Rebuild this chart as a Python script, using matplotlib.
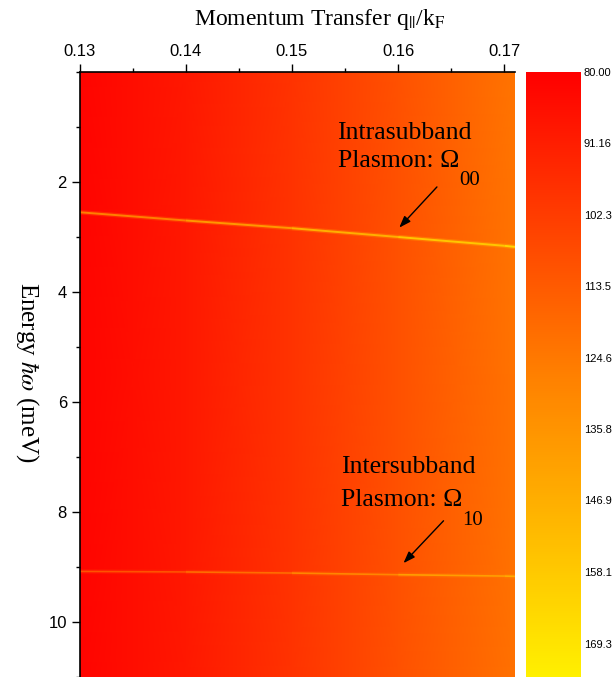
import numpy as np
import matplotlib
matplotlib.use("Agg")
import matplotlib.pyplot as plt
from matplotlib.colors import LinearSegmentedColormap, Normalize
from matplotlib.collections import LineCollection
from matplotlib.ticker import MultipleLocator, FormatStrFormatter

plt.rcParams['mathtext.fontset'] = 'stix'

# ---- data ----
q_grid = [0.13, 0.14, 0.15, 0.16, 0.171]          # q_par / k_F
E_grid = [0.0, 11.0]                              # energy (meV)
bg_vals = [[81.5, 89.0, 99.0, 110.0, 123.0],      # top row
           [81.5, 89.0, 99.0, 110.0, 122.0]]      # bottom row

intra_q = [0.13, 0.14, 0.15, 0.16, 0.17, 0.171]
intra_E = [2.55, 2.70, 2.84, 3.00, 3.16, 3.18]
intra_v = [122.0, 132.0, 142.0, 152.0, 162.0, 163.0]

inter_q = [0.13, 0.14, 0.15, 0.16, 0.17, 0.171]
inter_E = [9.08, 9.09, 9.11, 9.14, 9.165, 9.17]
inter_v = [106.0, 115.0, 125.0, 135.0, 145.0, 146.0]

cbar_ticks = [80.00, 91.16, 102.3, 113.5, 124.6, 135.8, 146.9, 158.1, 169.3]
cbar_labels = ["80.00", "91.16", "102.3", "113.5", "124.6", "135.8", "146.9", "158.1", "169.3"]
vmin, vmax = 80.0, 174.5

x_ticks = [0.13, 0.14, 0.15, 0.16, 0.17]
y_ticks = [2, 4, 6, 8, 10]

# ---- figure ----
W, H = 612, 677
fig = plt.figure(figsize=(W / 100, H / 100), dpi=100)
ax = fig.add_axes([79.5 / W, 0, (515 - 79.5) / W, 1 - 72 / H])
cax = fig.add_axes([526 / W, 0, 55 / W, 1 - 72 / H])

cmap = LinearSegmentedColormap.from_list("ry", [(1, 0, 0), (1, 0.5, 0), (1, 0.94, 0)])
norm = Normalize(vmin=vmin, vmax=vmax)

mesh = ax.pcolormesh(q_grid, E_grid, np.array(bg_vals), cmap=cmap, norm=norm,
                     shading='gouraud', rasterized=True)

def plasmon(qs, Es, vs, lw_core, lw_glow):
    pts = np.column_stack([qs, Es]).reshape(-1, 1, 2)
    segs = np.concatenate([pts[:-1], pts[1:]], axis=1)
    vals = np.array(vs)
    mid = 0.5 * (vals[:-1] + vals[1:])
    glow = LineCollection(segs, cmap=cmap, norm=norm, linewidths=lw_glow, alpha=0.4,
                          capstyle='butt')
    glow.set_array(mid - 15)
    ax.add_collection(glow)
    core = LineCollection(segs, cmap=cmap, norm=norm, linewidths=lw_core, capstyle='butt')
    core.set_array(mid)
    ax.add_collection(core)

plasmon(intra_q, intra_E, intra_v, 1.4, 3.2)
plasmon(inter_q, inter_E, inter_v, 1.2, 3.2)

ax.set_xlim(0.13, 0.171)
ax.set_ylim(11, 0)

ax.xaxis.tick_top()
ax.set_xticks(x_ticks)
ax.xaxis.set_major_formatter(FormatStrFormatter('%.2f'))
ax.xaxis.set_minor_locator(MultipleLocator(0.005))
ax.set_yticks(y_ticks)
ax.yaxis.set_minor_locator(MultipleLocator(1))
ax.tick_params(which='major', direction='out', length=6, width=1.0, pad=3,
               labelsize=12, top=True, bottom=False, right=False, left=True)
ax.tick_params(which='minor', direction='out', length=3, width=1.0,
               top=True, bottom=False, right=False, left=True)
for lab in ax.get_xticklabels() + ax.get_yticklabels():
    lab.set_fontfamily('Liberation Sans')
for s in ['right', 'bottom']:
    ax.spines[s].set_visible(False)
for s in ['left', 'top']:
    ax.spines[s].set_linewidth(1.2)
    ax.spines[s].set_zorder(5)

serif = 'Liberation Serif'
fs = 18.5

def label(x, y1, y2, line1, sub):
    ax.text(x, y1, line1, family=serif, fontsize=fs, ha='left', va='baseline')
    t = ax.text(x, y2, "Plasmon: Ω", family=serif, fontsize=fs, ha='left', va='baseline')
    ax.annotate(sub, xy=(1, 0), xycoords=t, xytext=(0.5, -9.5), textcoords='offset points',
                family=serif, fontsize=15, ha='left', va='baseline')

label(0.15429, 1.218, 1.727, "Intrasubband", "00")
label(0.15458, 7.29, 7.90, "Intersubband", "10")

arrow_kw = dict(arrowstyle='-|>,head_length=0.7,head_width=0.25', color='black', lw=1.0,
                shrinkA=0, shrinkB=0)
ax.annotate("", xy=(0.1601, 2.83), xytext=(0.16365, 2.09), arrowprops=arrow_kw)
ax.annotate("", xy=(0.1605, 8.93), xytext=(0.16427, 8.16), arrowprops=arrow_kw)

fig.text(320 / W, 1 - 25 / H, r"Momentum Transfer q$_{||}$/k$_{\mathrm{F}}$",
         family=serif, fontsize=17, ha='center', va='baseline')
fig.text(27 / W, 1 - 372 / H, r"Energy $\hbar\omega$ (meV)", family=serif, fontsize=18,
         rotation=270, ha='center', va='center')

cb = fig.colorbar(mesh, cax=cax)
cb.outline.set_visible(False)
cax.set_ylim(vmax, vmin)
cb.set_ticks(cbar_ticks)
cb.set_ticklabels(cbar_labels)
cax.tick_params(length=0, pad=2, labelsize=8)
for lab in cax.get_yticklabels():
    lab.set_fontfamily('Liberation Sans')

fig.savefig("out.png", dpi=100)
